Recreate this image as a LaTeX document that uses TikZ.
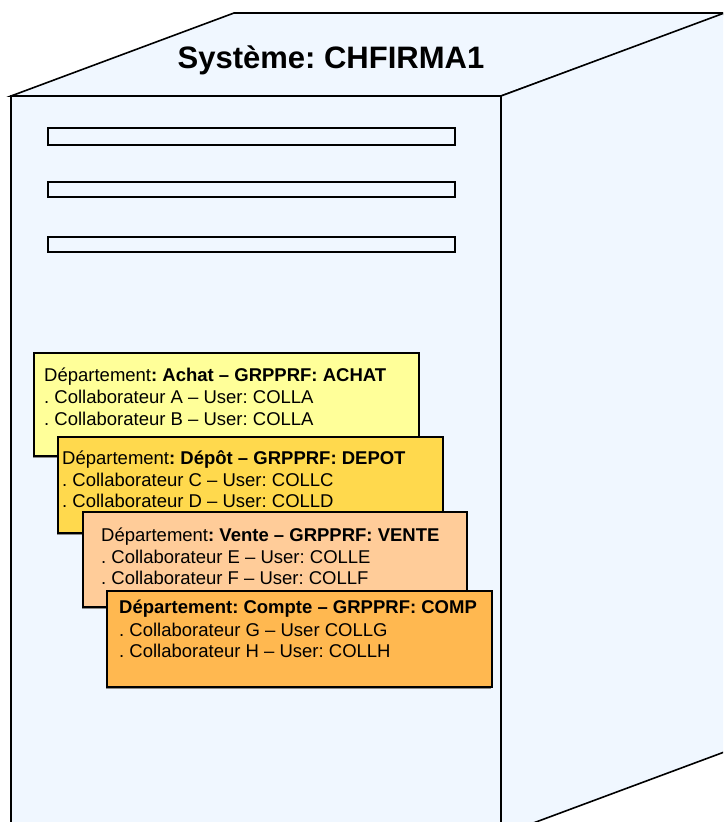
\documentclass[tikz,border=0pt]{standalone}
\usepackage{fontspec}
\setmainfont{Liberation Sans}
\usetikzlibrary{shadows}
\definecolor{cubefill}{RGB}{240,247,255}
\definecolor{colA}{RGB}{255,255,153}
\definecolor{colB}{RGB}{255,217,77}
\definecolor{colC}{RGB}{255,204,153}
\definecolor{colD}{RGB}{255,184,80}
\frenchspacing
\begin{document}
\begin{tikzpicture}[x=1pt,y=-1pt,
  cube/.style={fill=cubefill,draw=black,line width=1.6pt,line join=miter},
  slot/.style={fill=cubefill,draw=black,line width=1.6pt},
  deptbox/.style={draw=black,line width=1.8pt,anchor=north west,inner sep=0pt,outer sep=0pt,
    drop shadow={shadow xshift=-1.2pt,shadow yshift=-1.5pt,fill=black!45,opacity=1}},
  dtext/.style={anchor=base west,inner sep=0pt,font=\fontsize{18.5}{22}\selectfont},
  title/.style={anchor=base,inner sep=0pt,font=\fontsize{31}{36}\selectfont\bfseries}]
\useasboundingbox (0,0) rectangle (723,822);
\begin{scope}
\clip (0,0) rectangle (723,822);
\fill[white] (0,0) rectangle (723,822);
% cube faces
\filldraw[cube] (11,96) -- (234,13) -- (727,13) -- (501,96) -- cycle;
\filldraw[cube] (501,96) -- (727,12) -- (727,751) -- (501,835) -- cycle;
\filldraw[cube] (11,96) rectangle (501,840);
\end{scope}
% title
\node[title] (title) at (331,68) {Système: CHFIRMA1};
% slots
\draw[slot] (48,128) rectangle (455,145);
\draw[slot] (48,182) rectangle (455,197);
\draw[slot] (48,237) rectangle (455,252);
% department boxes
\node[deptbox,fill=colA,minimum width=385pt,minimum height=103pt] (boxA) at (34,353) {};
\node[dtext] (a1) at (44,381) {Département\textbf{: Achat – GRPPRF: ACHAT}};
\node[dtext] (a2) at (44,403) {. Collaborateur A – User: COLLA};
\node[dtext] (a3) at (44,425) {. Collaborateur B – User: COLLA};
\node[deptbox,fill=colB,minimum width=385pt,minimum height=96pt] (boxB) at (58,437) {};
\node[dtext] (b1) at (62,464) {Département\textbf{: Dépôt – GRPPRF: DEPOT}};
\node[dtext] (b2) at (62,486) {. Collaborateur C – User: COLLC};
\node[dtext] (b3) at (62,507) {. Collaborateur D – User: COLLD};
\node[deptbox,fill=colC,minimum width=384pt,minimum height=95pt] (boxC) at (83,512) {};
\node[dtext] (c1) at (101,541) {Département\textbf{: Vente – GRPPRF: VENTE}};
\node[dtext] (c2) at (101,563) {. Collaborateur E – User: COLLE};
\node[dtext] (c3) at (101,584) {. Collaborateur F – User: COLLF};
\node[deptbox,fill=colD,minimum width=385pt,minimum height=96pt] (boxD) at (107,591) {};
\node[dtext] (d1) at (119,613) {\textbf{Département: Compte – GRPPRF: COMP}};
\node[dtext] (d2) at (119,636) {. Collaborateur G – User COLLG};
\node[dtext] (d3) at (119,657) {. Collaborateur H – User: COLLH};
\end{tikzpicture}
\end{document}
